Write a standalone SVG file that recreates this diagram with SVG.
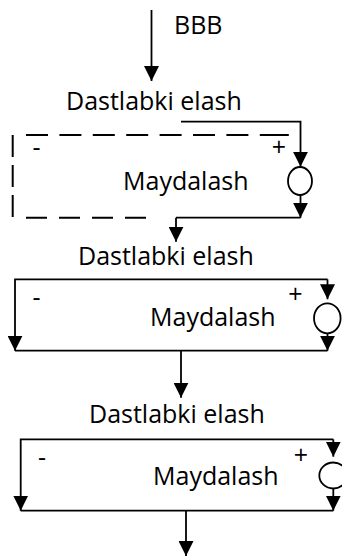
<svg xmlns="http://www.w3.org/2000/svg" width="342" height="557" viewBox="0 0 342 557">
<defs>
<style>
.t{font-family:"Open Sans","Liberation Sans",sans-serif;font-size:25px;fill:#000}
.s{font-family:"Open Sans","Liberation Sans",sans-serif;font-size:25px;fill:#000;text-anchor:middle}
.ln{fill:none;stroke:#000;stroke-width:1.8;stroke-linecap:butt}
.ar{marker-end:url(#ah)}
.da{fill:none;stroke:#000;stroke-width:2}
.c{fill:#fff;stroke:#000;stroke-width:1.8}
</style>
<marker id="ah" markerUnits="userSpaceOnUse" viewBox="0 0 15 15" markerWidth="15" markerHeight="15" refX="15" refY="7.5" orient="auto">
<path d="M0,0 L15,7.5 L0,15 Z" fill="#000"/>
</marker>
</defs>
<rect width="342" height="557" fill="#fff"/>
<g id="connectors">
<line class="ln ar" x1="151.5" y1="10" x2="151.5" y2="81"/>
<polyline class="ln ar" points="181,121.7 300.5,121.7 300.5,166.7"/>
<line class="ln ar" x1="300.5" y1="195" x2="300.5" y2="217.7"/>
<line class="ln" x1="176" y1="217.7" x2="300.5" y2="217.7"/>
<line class="ln ar" x1="176" y1="217.7" x2="176" y2="241.7"/>
<polyline class="ln ar" points="327.5,279.3 15,279.3 15,350.7"/>
<line class="ln ar" x1="327.5" y1="279.3" x2="327.5" y2="299.3"/>
<line class="ln ar" x1="327.5" y1="333.3" x2="327.5" y2="350.7"/>
<line class="ln" x1="15" y1="350.7" x2="327.5" y2="350.7"/>
<line class="ln ar" x1="181" y1="350.7" x2="181" y2="397.7"/>
<polyline class="ln ar" points="333.3,439.3 20.7,439.3 20.7,510.7"/>
<line class="ln ar" x1="333.3" y1="439.3" x2="333.3" y2="456.7"/>
<line class="ln ar" x1="333.3" y1="488.5" x2="333.3" y2="510.7"/>
<line class="ln" x1="20.7" y1="510.7" x2="333.3" y2="510.7"/>
<line class="ln ar" x1="186" y1="510.7" x2="186" y2="556"/>
</g>
<g id="node-bbb">
<text class="t" x="174" y="34.3">BBB</text>
</g>
<g id="node-elash1">
<text class="t" x="66" y="110">Dastlabki elash</text>
</g>
<g id="node-maydalash1">
<line class="da" x1="26" y1="135" x2="289" y2="135" stroke-dasharray="22 11.4 22 11.4 22 11.4 22 11.4 22 11.4 22 11.4 22 11.4 29 100"/>
<line class="da" x1="12.7" y1="135" x2="12.7" y2="217" stroke-dasharray="22 8"/>
<line class="da" x1="26" y1="217.7" x2="150" y2="217.7" stroke-dasharray="21 12"/>
<text class="s" x="36.5" y="155.5">-</text>
<text class="s" x="279" y="155.5">+</text>
<text class="t" x="123" y="190">Maydalash</text>
<ellipse class="c" cx="300" cy="181" rx="12" ry="14"/>
</g>
<g id="node-elash2">
<text class="t" x="78" y="265">Dastlabki elash</text>
</g>
<g id="node-maydalash2">
<text class="s" x="36.5" y="305.6">-</text>
<text class="s" x="295.5" y="303.4">+</text>
<text class="t" x="150" y="326">Maydalash</text>
<ellipse class="c" cx="327.3" cy="318.3" rx="13.3" ry="15"/>
</g>
<g id="node-elash3">
<text class="t" x="89" y="423.3">Dastlabki elash</text>
</g>
<g id="node-maydalash3">
<text class="s" x="42" y="465.6">-</text>
<text class="s" x="301" y="463.9">+</text>
<text class="t" x="153" y="485">Maydalash</text>
<ellipse class="c" cx="333.3" cy="475.5" rx="14" ry="13"/>
</g>
</svg>
